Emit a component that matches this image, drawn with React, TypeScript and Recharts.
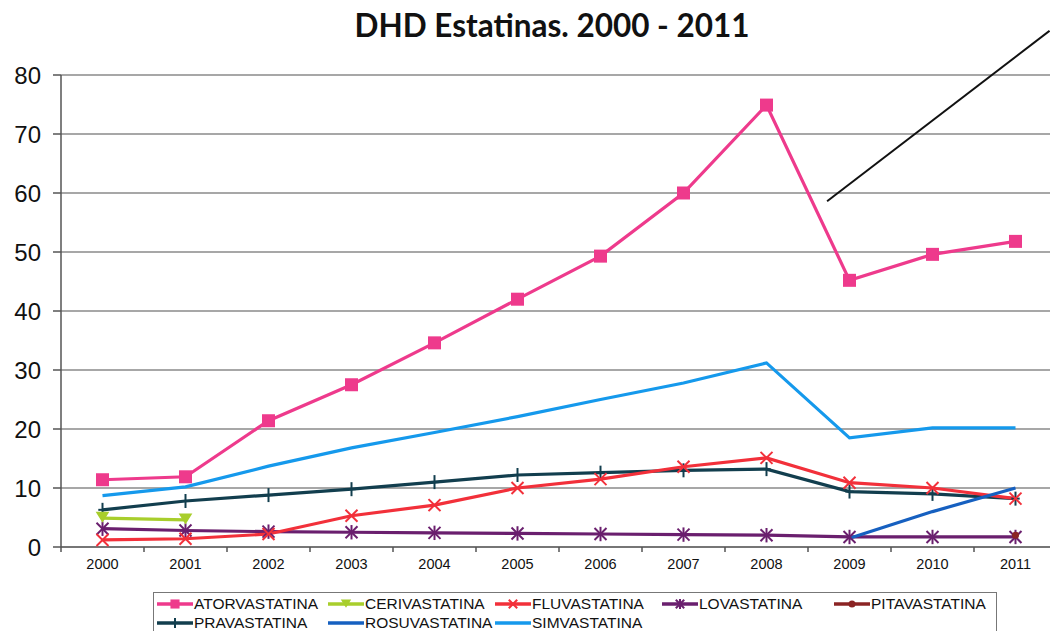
import React from 'react';
import { LineChart, Line, XAxis, YAxis, CartesianGrid, ReferenceLine } from 'recharts';

const years = ['2000', '2001', '2002', '2003', '2004', '2005', '2006', '2007', '2008', '2009', '2010', '2011'];
const atorvastatina = [11.4, 11.9, 21.4, 27.5, 34.6, 42.0, 49.3, 60.0, 74.9, 45.2, 49.6, 51.8];
const cerivastatina = [4.9, 4.6, null, null, null, null, null, null, null, null, null, null];
const fluvastatina = [1.2, 1.4, 2.2, 5.3, 7.1, 10.0, 11.5, 13.6, 15.1, 10.9, 10.0, 8.2];
const lovastatina = [3.1, 2.8, 2.6, 2.5, 2.4, 2.3, 2.2, 2.1, 2.0, 1.7, 1.7, 1.7];
const pitavastatina = [null, null, null, null, null, null, null, null, null, null, null, 2.0];
const pravastatina = [6.3, 7.8, 8.8, 9.8, 11.0, 12.2, 12.6, 13.0, 13.2, 9.4, 9.0, 8.2];
const rosuvastatina = [null, null, null, null, null, null, null, null, null, 1.5, 6.0, 10.0];
const simvastatina = [8.7, 10.2, 13.7, 16.8, 19.4, 22.1, 25.0, 27.8, 31.2, 18.5, 20.2, 20.2];

const yTicks = [0, 10, 20, 30, 40, 50, 60, 70, 80];
const annotationArrow = [{ x: 8.73, y: 58.6 }, { x: 11.41, y: 87.5 }];

type Marker = 'square' | 'triangle' | 'x' | 'star' | 'circle' | 'plus' | 'none';

const series: { key: string; name: string; color: string; values: (number | null)[]; marker: Marker }[] = [
  { key: 'simvastatina', name: 'SIMVASTATINA', color: '#1599EC', values: simvastatina, marker: 'none' },
  { key: 'pravastatina', name: 'PRAVASTATINA', color: '#123E4E', values: pravastatina, marker: 'plus' },
  { key: 'lovastatina', name: 'LOVASTATINA', color: '#6A1F6E', values: lovastatina, marker: 'star' },
  { key: 'fluvastatina', name: 'FLUVASTATINA', color: '#F2303A', values: fluvastatina, marker: 'x' },
  { key: 'rosuvastatina', name: 'ROSUVASTATINA', color: '#1660C0', values: rosuvastatina, marker: 'none' },
  { key: 'cerivastatina', name: 'CERIVASTATINA', color: '#A8CE2C', values: cerivastatina, marker: 'triangle' },
  { key: 'pitavastatina', name: 'PITAVASTATINA', color: '#8B2424', values: pitavastatina, marker: 'circle' },
  { key: 'atorvastatina', name: 'ATORVASTATINA', color: '#EE3A8C', values: atorvastatina, marker: 'square' },
];

const legendOrder = [
  'atorvastatina', 'cerivastatina', 'fluvastatina', 'lovastatina', 'pitavastatina',
  'pravastatina', 'rosuvastatina', 'simvastatina',
];

const rows = years.map((year, i) => {
  const r: Record<string, any> = { idx: i, year };
  series.forEach((s) => { r[s.key] = s.values[i]; });
  return r;
});

function markerShape(kind: Marker, color: string, cx: number, cy: number, s: number, k?: string) {
  switch (kind) {
    case 'square':
      return <rect key={k} x={cx - s} y={cy - s} width={2 * s} height={2 * s} fill={color} />;
    case 'triangle':
      return <path key={k} d={`M${cx - s},${cy - s} L${cx + s},${cy - s} L${cx},${cy + s * 0.6} Z`} fill={color} stroke={color} strokeWidth={1.5} />;
    case 'x':
      return (
        <g key={k} stroke={color} strokeWidth={2}>
          <line x1={cx - s} y1={cy - s} x2={cx + s} y2={cy + s} />
          <line x1={cx - s} y1={cy + s} x2={cx + s} y2={cy - s} />
        </g>
      );
    case 'star':
      return (
        <g key={k} stroke={color} strokeWidth={2}>
          <line x1={cx - s} y1={cy - s} x2={cx + s} y2={cy + s} />
          <line x1={cx - s} y1={cy + s} x2={cx + s} y2={cy - s} />
          <line x1={cx} y1={cy - s * 1.2} x2={cx} y2={cy + s * 1.2} />
        </g>
      );
    case 'circle':
      return <circle key={k} cx={cx} cy={cy} r={Math.max(s * 0.7, 3.5)} fill={color} />;
    case 'plus':
      return (
        <g key={k} stroke={color} strokeWidth={2}>
          <line x1={cx} y1={cy - s} x2={cx} y2={cy + s} />
          <line x1={cx - s * 0.6} y1={cy} x2={cx + s * 0.6} y2={cy} />
        </g>
      );
    default:
      return <g key={k} />;
  }
}

const makeDot = (kind: Marker, color: string, size: number) => (props: any) => {
  const { cx, cy, index } = props;
  const k = `${kind}-${index}`;
  if (cx == null || cy == null || props.value == null || (Array.isArray(props.value) && props.value[1] == null)) {
    return <g key={k} />;
  }
  return markerShape(kind, color, cx, cy, size, k);
};

const markerSize: Record<Marker, number> = { square: 6.5, triangle: 5.5, x: 6, star: 6, circle: 5, plus: 7, none: 0 };

const XTick = (props: any) => {
  const { x, y, payload } = props;
  const v = payload.value;
  if (Number.isInteger(v)) {
    return (
      <text x={x} y={y + 22} textAnchor="middle" fontSize={14.5} fontFamily="'Liberation Sans', Arial, sans-serif" fill="#111">
        {years[v]}
      </text>
    );
  }
  return <line x1={x} x2={x} y1={y} y2={y + 5} stroke="#555" strokeWidth={1.5} />;
};

const xTicks: number[] = [];
for (let i = -1; i < years.length; i++) {
  xTicks.push(i + 0.5);
  if (i + 1 < years.length) xTicks.push(i + 1);
}

const legendCols = [2, 173, 340, 507, 679];
const legendRowCenters = [11, 30];

export default function App() {
  const byKey: Record<string, (typeof series)[number]> = {};
  series.forEach((s) => { byKey[s.key] = s; });
  return (
    <div style={{ position: 'absolute', left: 0, top: 0, width: 1050, height: 631, overflow: 'hidden', background: '#fff' }}>
      <svg width={1050} height={60} style={{ position: 'absolute', left: 0, top: 0 }}>
        <text x={552} y={37} textAnchor="middle" fontFamily="Lato, 'Open Sans', sans-serif" fontWeight={700} fontSize={33}
          textLength={395} lengthAdjust="spacingAndGlyphs" fill="#111">
          DHD Estatinas. 2000 - 2011
        </text>
      </svg>
      <div style={{ position: 'absolute', left: 0, top: 0 }}>
        <LineChart width={1060} height={631} data={rows} margin={{ top: 75, right: 3, bottom: 54, left: 0 }}>
          <CartesianGrid vertical={false} stroke="#8a8a8a" strokeWidth={1.3} />
          <XAxis
            dataKey="idx"
            type="number"
            domain={[-0.5, 11.5]}
            ticks={xTicks}
            interval={0}
            tick={<XTick />}
            tickLine={false}
            tickSize={0}
            tickMargin={0}
            height={30}
            axisLine={{ stroke: '#666', strokeWidth: 1.5 }}
          />
          <YAxis
            domain={[0, 80]}
            ticks={yTicks}
            interval={0}
            width={61}
            tickSize={8}
            tickMargin={12}
            tick={{ fontSize: 24, fill: '#111', fontFamily: "'Liberation Sans', Arial, sans-serif" }}
            axisLine={{ stroke: '#555', strokeWidth: 1.5 }}
            tickLine={{ stroke: '#555', strokeWidth: 1.5 }}
          />
          {series.map((s) => (
            <Line
              key={s.key}
              dataKey={s.key}
              name={s.name}
              stroke={s.color}
              strokeWidth={3.2}
              dot={s.marker === 'none' ? false : makeDot(s.marker, s.color, markerSize[s.marker])}
              activeDot={false}
              connectNulls={false}
              isAnimationActive={false}
            />
          ))}
          <ReferenceLine segment={annotationArrow} stroke="#111" strokeWidth={2} ifOverflow="visible" />
        </LineChart>
      </div>
      <div style={{ position: 'absolute', left: 153, top: 592, width: 844, height: 50, border: '1.5px solid #777', background: '#fff', boxSizing: 'border-box' }}>
        {legendOrder.map((k, i) => {
          const s = byKey[k];
          const row = i < 5 ? 0 : 1;
          const col = i < 5 ? i : i - 5;
          return (
            <div key={k} style={{ position: 'absolute', left: legendCols[col], top: legendRowCenters[row] - 9, height: 18, display: 'flex', alignItems: 'center', whiteSpace: 'nowrap' }}>
              <svg width={38} height={16} style={{ display: 'block' }}>
                <line x1={1} x2={37} y1={8} y2={8} stroke={s.color} strokeWidth={3.5} />
                {markerShape(s.marker, s.color, 19, 8, Math.max(markerSize[s.marker] * 0.7, 0))}
              </svg>
              <span style={{ fontFamily: "'Liberation Sans', Arial, sans-serif", fontSize: 15.5, lineHeight: '18px', color: '#111' }}>{s.name}</span>
            </div>
          );
        })}
      </div>
    </div>
  );
}
